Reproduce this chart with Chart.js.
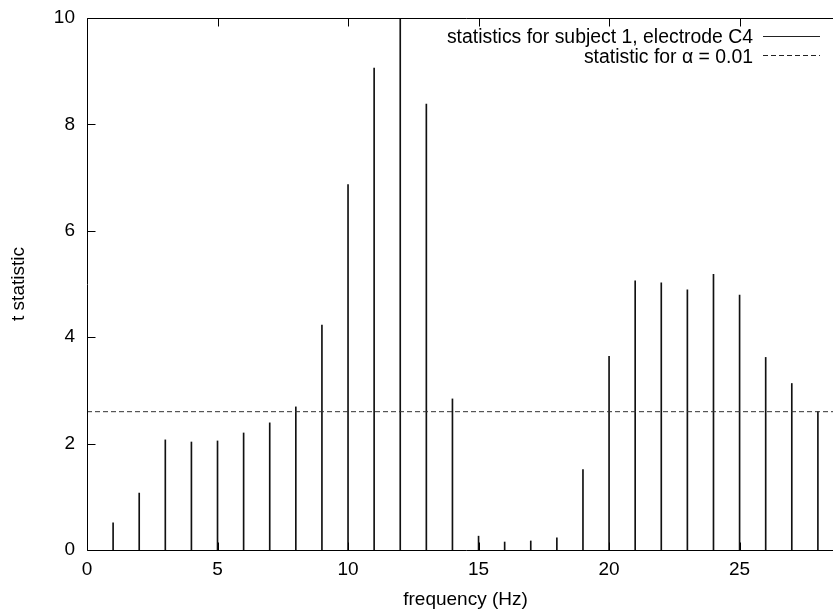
<!DOCTYPE html>
<html>
<head>
<meta charset="utf-8">
<script src="https://cdn.jsdelivr.net/npm/chart.js@4/dist/chart.umd.min.js"></script>
<style>
  html, body { margin: 0; padding: 0; overflow: hidden; background: #fff; }
  #wrap { position: relative; width: 844px; height: 609px; }
</style>
</head>
<body>
<div id="wrap"><canvas id="c"></canvas></div>
<script>
// ---- data ----
const frequencies = [1,2,3,4,5,6,7,8,9,10,11,12,13,14,15,16,17,18,19,20,21,22,23,24,25,26,27,28];
const tValues = [0.51,1.07,2.07,2.03,2.05,2.20,2.39,2.69,4.23,6.87,9.06,10.6,8.38,2.84,0.26,0.15,0.17,0.23,1.51,3.64,5.06,5.02,4.89,5.18,4.79,3.62,3.13,2.60];
const threshold = 2.6;
const xRange = [0, 29];
const yRange = [0, 10];
const xTickValues = [0, 5, 10, 15, 20, 25];
const yTickValues = [0, 2, 4, 6, 8, 10];
const seriesLabel = 'statistics for subject 1, electrode C4';
const thresholdLabel = 'statistic for \u03B1 = 0.01';
const xTitle = 'frequency (Hz)';
const yTitle = 't statistic';

const FONT = '"Liberation Sans", Arial, Helvetica, sans-serif';
const FS = 19;

const framePlugin = {
  id: 'frame',
  afterDatasetsDraw(chart) {
    const ctx = chart.ctx, a = chart.chartArea;
    const xs = chart.scales.x, ys = chart.scales.y;
    const L = Math.round(a.left) + 0.5, T = Math.round(a.top) + 0.5, B = Math.round(a.bottom) + 0.5;
    ctx.save();
    ctx.strokeStyle = '#000';
    ctx.lineWidth = 1;
    ctx.setLineDash([]);
    ctx.beginPath();
    ctx.moveTo(a.right + 5, T); ctx.lineTo(L, T); ctx.lineTo(L, B); ctx.lineTo(a.right + 5, B);
    // inward ticks
    const tl = 8;
    yTickValues.forEach(v => {
      const y = Math.round(ys.getPixelForValue(v)) + 0.5;
      ctx.moveTo(L, y); ctx.lineTo(L + tl, y);
    });
    xTickValues.forEach(v => {
      const x = Math.round(xs.getPixelForValue(v)) + 0.5;
      ctx.moveTo(x, B); ctx.lineTo(x, B - tl);
      ctx.moveTo(x, T); ctx.lineTo(x, T + tl);
    });
    ctx.stroke();

    // key (legend)
    ctx.font = '19.4px ' + FONT;
    ctx.fillStyle = '#000';
    ctx.textAlign = 'right';
    ctx.textBaseline = 'alphabetic';
    const textRight = 753, s0 = 763, s1 = 820;
    const row1 = a.top + 25, row2 = a.top + 45;
    ctx.fillText(seriesLabel, textRight, row1);
    ctx.fillText(thresholdLabel, textRight, row2);
    ctx.beginPath();
    ctx.strokeStyle = '#222';
    ctx.moveTo(s0, Math.round(a.top + 17.5) + 0.5); ctx.lineTo(s1, Math.round(a.top + 17.5) + 0.5);
    ctx.stroke();
    ctx.beginPath();
    ctx.setLineDash([5, 3]);
    ctx.moveTo(s0, Math.round(a.top + 37) + 0.5); ctx.lineTo(s1, Math.round(a.top + 37) + 0.5);
    ctx.stroke();
    ctx.restore();
  }
};

new Chart(document.getElementById('c'), {
  type: 'bar',
  data: {
    datasets: [
      {
        type: 'bar',
        label: seriesLabel,
        data: frequencies.map((f, i) => ({ x: f, y: tValues[i] })),
        backgroundColor: '#111',
        borderWidth: 0,
        barThickness: 1,
        order: 2
      },
      {
        type: 'line',
        label: thresholdLabel,
        data: [{ x: xRange[0], y: threshold }, { x: xRange[1], y: threshold }],
        borderColor: '#333',
        borderWidth: 1,
        borderDash: [5, 3],
        pointRadius: 0,
        fill: false,
        order: 1
      }
    ]
  },
  options: {
    responsive: true,
    maintainAspectRatio: false,
    animation: false,
    events: [],
    layout: { padding: { top: 18, right: 0, left: 0, bottom: 0 } },
    plugins: { legend: { display: false }, tooltip: { enabled: false } },
    scales: {
      x: {
        type: 'linear',
        min: xRange[0], max: xRange[1],
        offset: false,
        grid: { display: false, drawTicks: false },
        border: { display: false },
        afterBuildTicks(s) { s.ticks = xTickValues.map(v => ({ value: v })); },
        afterFit(s) { s.height = 59; s.paddingLeft = 0; s.paddingRight = 0; },
        ticks: { color: '#000', font: { family: FONT, size: FS }, padding: 8, maxRotation: 0, autoSkip: false },
        title: { display: true, text: xTitle, color: '#000', font: { family: FONT, size: FS, lineHeight: 1.0 }, padding: { top: 0, bottom: 0 } }
      },
      y: {
        min: yRange[0], max: yRange[1],
        grid: { display: false, drawTicks: false },
        border: { display: false },
        afterBuildTicks(s) { s.ticks = yTickValues.map(v => ({ value: v })); },
        afterFit(s) { s.width = 87; s.paddingTop = 0; s.paddingBottom = 0; },
        ticks: { color: '#000', font: { family: FONT, size: FS }, padding: 12 },
        title: { display: true, text: yTitle, color: '#000', font: { family: FONT, size: FS, lineHeight: 1.0 }, padding: { top: 9, bottom: 0 } }
      }
    }
  },
  plugins: [framePlugin]
});
</script>
</body>
</html>
